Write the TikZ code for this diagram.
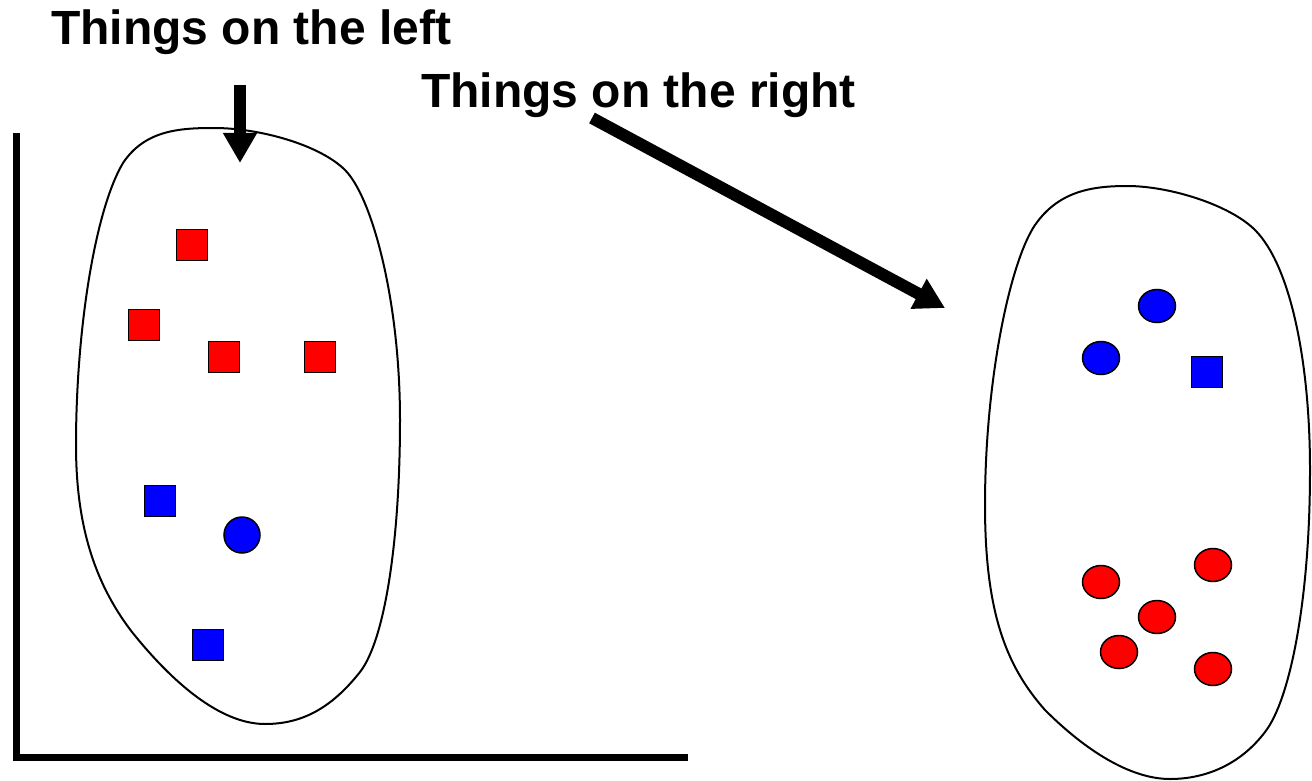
\documentclass[tikz,border=0pt]{standalone}
\usepackage{fontspec}
\setmainfont{Liberation Sans}
\usetikzlibrary{arrows.meta,positioning,shapes.geometric}

\begin{document}
\begin{tikzpicture}[x=1pt, y=-1pt,
      label/.style={anchor=base west, inner sep=0pt,
                    font=\fontsize{48}{58}\selectfont\bfseries},
      blob/.style={draw=black, line width=2pt},
      axis/.style={draw=black, line width=7pt},
      redsq/.style={draw=black, fill=red, line width=1.5pt,
                    minimum size=31pt, inner sep=0pt},
      bluesq/.style={redsq, fill=blue},
      bluedot/.style={circle, draw=black, fill=blue, line width=1.5pt,
                      minimum size=36pt, inner sep=0pt},
      dot/.style={ellipse, draw=black, line width=1.5pt,
                  minimum width=37pt, minimum height=33pt, inner sep=0pt},
      fatarrow/.style={line width=12pt, -{Triangle[length=30pt, width=32pt]}},
    ]
    \useasboundingbox (0,0) rectangle (1312,781);

    % labels
    \node[label] (lefttxt) at (51,45) {Things on the left};
    \node[label] (righttxt) at (421,108) {Things on the right};

    % axes
    \coordinate (ytop) at (16,133);
    \coordinate (xend) at (688,757);
    \draw[axis] (ytop) |- (xend);

    % left group
    \draw[blob] (214,128) .. controls (260,128) and (320,145) .. (345,170)
      .. controls (372,197) and (400,300) .. (400,420)
      .. controls (400,540) and (385,640) .. (360,672)
      .. controls (330,710) and (300,724) .. (265,724)
      .. controls (220,724) and (172,682) .. (132,632)
      .. controls (92,580) and (76,520) .. (76,445)
      .. controls (76,330) and (95,210) .. (123,163)
      .. controls (145,130) and (180,128) .. cycle;
    \node[redsq] (r1) at (192,245) {};
    \node[redsq] (r2) at (144,325) {};
    \node[redsq] (r3) at (224,357) {};
    \node[redsq] (r4) at (320,357) {};
    \node[bluesq] (b1) at (160,501) {};
    \node[bluesq] (b2) at (208,645) {};
    \node[bluedot] (c1) at (242,535) {};

    % right group
    \draw[blob] (1127,186) .. controls (1170,186) and (1230,205) .. (1255,230)
      .. controls (1290,265) and (1310,360) .. (1310,470)
      .. controls (1310,600) and (1290,700) .. (1265,732)
      .. controls (1240,765) and (1205,779) .. (1170,779)
      .. controls (1130,779) and (1085,750) .. (1045,710)
      .. controls (1005,665) and (985,610) .. (985,505)
      .. controls (985,380) and (1010,262) .. (1035,225)
      .. controls (1058,192) and (1090,186) .. cycle;
    \node[dot, fill=blue] (d1) at (1157,306) {};
    \node[dot, fill=blue] (d2) at (1101,358) {};
    \node[bluesq] (b3) at (1207,372) {};
    \node[dot, fill=red] (e1) at (1101,582) {};
    \node[dot, fill=red] (e2) at (1213,565) {};
    \node[dot, fill=red] (e3) at (1157,617) {};
    \node[dot, fill=red] (e4) at (1119,652) {};
    \node[dot, fill=red] (e5) at (1213,669) {};

    % pointers
    \coordinate (lefttail) at (240,85);
    \coordinate (lefttip) at (240,163);
    \coordinate (righttail) at (592,118);
    \coordinate (righttip) at (945,308);
    \draw[fatarrow] (lefttail) -- (lefttip);
    \draw[fatarrow] (righttail) -- (righttip);
  \end{tikzpicture}
\end{document}
